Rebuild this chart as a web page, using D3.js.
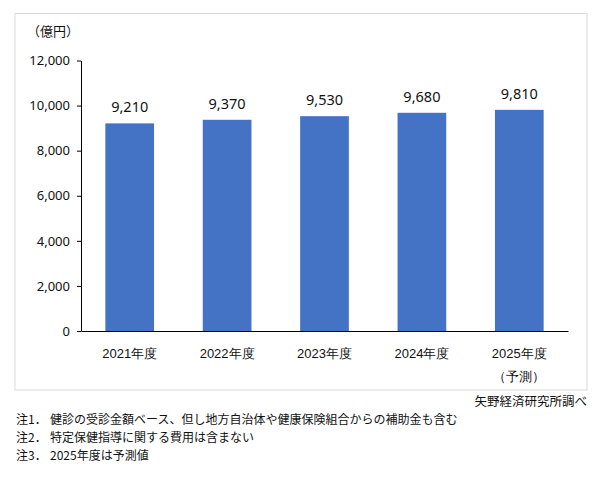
<!DOCTYPE html>
<html><head><meta charset="utf-8">
<script src="https://cdn.jsdelivr.net/npm/d3@7"></script>
<style>
html,body{margin:0;padding:0;background:#fff;}
svg{display:block;font-family:"Noto Sans CJK JP","Noto Sans",sans-serif;}
</style></head>
<body>
<svg id="c" width="601" height="484"></svg>
<script>
const categories = ["2021年度","2022年度","2023年度","2024年度","2025年度"];
const subLabels = ["","","","","（予測）"];
const values = [9210, 9370, 9530, 9680, 9810];
const yTicks = [0, 2000, 4000, 6000, 8000, 10000, 12000];
const unitLabel = "（億円）";
const source = "矢野経済研究所調べ";
const notePrefixes = ["注1．","注2．","注3．"];
const notes = ["健診の受診金額ベース、但し地方自治体や健康保険組合からの補助金も含む","特定保健指導に関する費用は含まない","2025年度は予測値"];

const svg = d3.select("#c");
const textColor = "#111";

// frame
svg.append("rect").attr("x",15).attr("y",13.5).attr("width",572).attr("height",376.5)
  .attr("fill","#fff").attr("stroke","#d9d9d9").attr("stroke-width",1);

const x = d3.scaleBand().domain(categories).range([81,568]).paddingInner(0.5).paddingOuter(0.25);
const y = d3.scaleLinear().domain([0,12000]).range([331,60.5]);

// bars
svg.selectAll("rect.bar").data(values).enter().append("rect")
  .attr("class","bar")
  .attr("x",(d,i)=>x(categories[i]))
  .attr("width",x.bandwidth())
  .attr("y",d=>y(d))
  .attr("height",d=>y(0)-y(d))
  .attr("fill","#4472C4");

// y axis
const yAxis = svg.append("g").attr("transform","translate(81,0)")
  .call(d3.axisLeft(y).tickValues(yTicks).tickFormat(d3.format(",")).tickSize(4).tickSizeOuter(0).tickPadding(7));
yAxis.select(".domain").attr("stroke","#000");
yAxis.selectAll(".tick line").attr("stroke","#000");
yAxis.selectAll(".tick text").attr("font-size",13).attr("fill",textColor)
  .attr("font-family","'Noto Sans','Noto Sans CJK JP',sans-serif");

// x axis
const xAxis = svg.append("g").attr("transform","translate(0,331)")
  .call(d3.axisBottom(x).tickSize(0).tickSizeOuter(0).tickPadding(0));
xAxis.select(".domain").attr("stroke","#000");
xAxis.selectAll(".tick text").remove();
xAxis.selectAll(".tick").append("text")
  .attr("y",27).attr("text-anchor","middle").attr("font-size",13).attr("fill",textColor)
  .text(d=>d);
xAxis.selectAll(".tick").append("text")
  .attr("y",50).attr("text-anchor","middle").attr("font-size",13).attr("fill",textColor)
  .text((d,i)=>subLabels[i]);

// data labels
svg.selectAll("text.lbl").data(values).enter().append("text")
  .attr("class","lbl")
  .attr("x",(d,i)=>x(categories[i])+x.bandwidth()/2)
  .attr("y",d=>y(d)-11)
  .attr("text-anchor","middle").attr("font-size",14.5).attr("fill",textColor)
  .attr("font-family","'Noto Sans','Noto Sans CJK JP',sans-serif")
  .text(d=>d3.format(",")(d));

// unit
svg.append("text").attr("x",27).attr("y",36).attr("font-size",13).attr("fill",textColor).text(unitLabel);

// source
svg.append("text").attr("x",587).attr("y",406).attr("text-anchor","end").attr("font-size",12.5).attr("fill",textColor).text(source);

// notes
notes.forEach((n,i)=>{
  svg.append("text").attr("x",16).attr("y",424+i*18).attr("font-size",12).attr("fill",textColor).text(notePrefixes[i]);
  svg.append("text").attr("x",50).attr("y",424+i*18).attr("font-size",12).attr("fill",textColor).text(n);
});
</script>
</body></html>
